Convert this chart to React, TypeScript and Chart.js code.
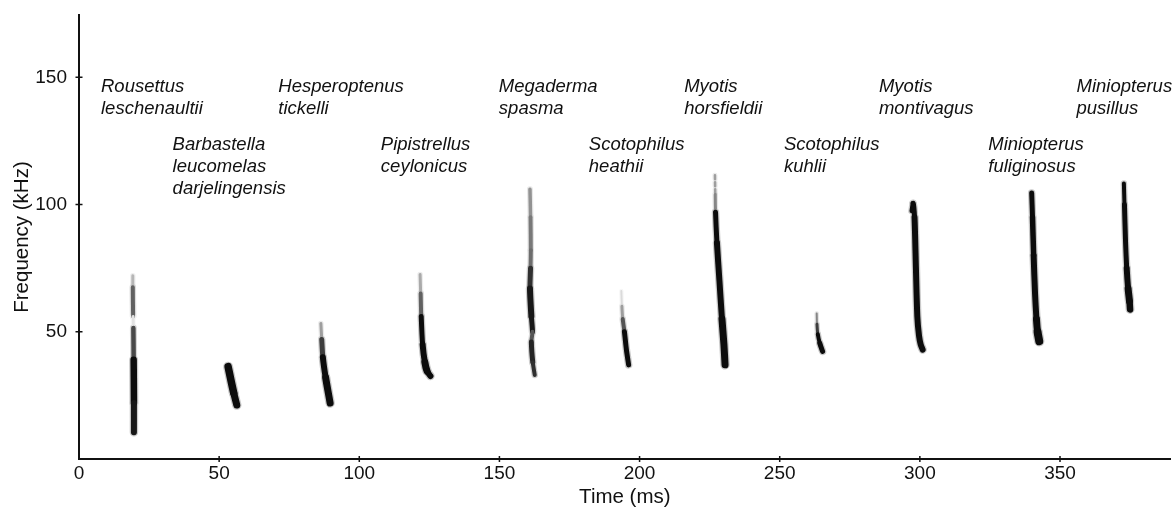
import React, { useEffect, useRef } from "react";
import { Chart, registerables } from "chart.js";

Chart.register(...registerables);

type Pt = [number, number]; // [time ms, frequency kHz]

// ---- axes ----
const xTicks = [0, 50, 100, 150, 200, 250, 300, 350];
const yTicks = [50, 100, 150];
const xMax = 389.5;
const yMax = 174.5;

// ---- call traces (time ms, frequency kHz) ----
const callRousettus: Pt[] = [
  [19.2, 72], [19.2, 67.5], [19.3, 56], [19.4, 51.5], [19.5, 39], [19.6, 22], [19.6, 10.5],
];
const callBarbastella: Pt[] = [[53.2, 36.3], [54.2, 31], [55.2, 26], [56.3, 21.2]];
const callHesperoptenus: Pt[] = [[86.3, 53.3], [86.6, 47], [87.0, 40], [88.0, 32], [89.6, 22]];
const callPipistrellus: Pt[] = [
  [121.7, 72.5], [121.9, 65], [122.1, 56], [122.6, 45], [123.4, 38], [124.2, 34.5], [125.4, 32.6],
];
const callMegaderma: Pt[] = [
  [160.9, 106], [161.1, 95], [161.2, 82], [161.1, 75], [160.9, 67], [161.4, 56], [161.8, 50],
  [161.4, 46], [161.9, 38], [162.6, 33],
];
const callScotoHeathii: Pt[] = [[193.5, 66], [193.7, 60], [194.0, 55], [194.6, 50], [195.3, 43], [196.1, 37]];
const callMyotisHorsfieldii: Pt[] = [
  [226.9, 111.5], [227.0, 104], [227.1, 97], [227.6, 85], [228.5, 70], [229.4, 55], [230.1, 45], [230.5, 37],
];
const callScotoKuhlii: Pt[] = [[263.2, 57.2], [263.3, 53], [263.6, 49], [264.3, 45.5], [265.3, 42.3]];
const callMyotisMontivagus: Pt[] = [
  [297.1, 97.5], [297.6, 100.5], [298.1, 95], [298.6, 75], [299.1, 56], [299.7, 48.5], [300.3, 45], [301.0, 43],
];
const callMinioFuliginosus: Pt[] = [
  [339.9, 104.5], [340.2, 95], [340.6, 80], [341.1, 65], [341.6, 55], [342.0, 50], [342.6, 46.3],
];
const callMinioPusillus: Pt[] = [
  [372.8, 108.3], [373.0, 100], [373.4, 85], [373.8, 75], [374.3, 67], [374.8, 62], [375.0, 58.8],
];

const callList: Pt[][] = [
  callRousettus, callBarbastella, callHesperoptenus, callPipistrellus, callMegaderma,
  callScotoHeathii, callMyotisHorsfieldii, callScotoKuhlii, callMyotisMontivagus,
  callMinioFuliginosus, callMinioPusillus,
];

// ---- species labels ----
const speciesNames = [
  "Rousettus leschenaultii", "Barbastella leucomelas darjelingensis", "Hesperoptenus tickelli",
  "Pipistrellus ceylonicus", "Megaderma spasma", "Scotophilus heathii", "Myotis horsfieldii",
  "Scotophilus kuhlii", "Myotis montivagus", "Miniopterus fuliginosus", "Miniopterus pusillus",
];
const labelTimes = [7.85, 33.4, 71.1, 107.7, 149.8, 181.9, 215.9, 251.5, 285.4, 324.4, 355.9];
const labelFreqs = [144.1, 121.4, 144.1, 121.4, 144.1, 121.4, 144.1, 121.4, 144.1, 121.4, 144.1];

// ---- styles (per segment): shade 0 = black, 1 = white; stroke widths in px ----
const callShades: number[][] = [
  [0.7, 0.35, 0.88, 0.25, 0, 0.05],
  [0, 0, 0],
  [0.6, 0.2, 0, 0],
  [0.65, 0.35, 0, 0, 0, 0],
  [0.55, 0.45, 0.4, 0.15, 0.05, 0.05, 0.3, 0.1, 0.15],
  [0.85, 0.6, 0.3, 0, 0],
  [0.6, 0.5, 0, 0, 0, 0, 0],
  [0.5, 0.2, 0, 0, 0],
  [0, 0, 0, 0, 0, 0, 0],
  [0, 0, 0, 0, 0, 0],
  [0, 0, 0, 0, 0, 0],
];
const callWidths: number[][] = [
  [3, 4, 3, 4.5, 6.5, 6],
  [7.5, 7.5, 7],
  [3, 5, 6, 7],
  [3, 4, 5, 6, 7, 6],
  [3.5, 4, 4, 5, 6, 5, 4, 5, 4],
  [2, 3, 4, 5, 5],
  [2.5, 3, 5, 6, 6, 7, 7],
  [2, 3, 4, 5],
  [4.5, 5, 6, 6, 6, 6, 6],
  [5, 5.5, 6, 6, 7, 8],
  [4, 5, 5, 6, 7, 6.5],
];
const dashedSegments: number[][] = [[], [], [], [], [], [], [0], [], [], [], []];

const FONT = '"Liberation Sans", Arial, Helvetica, sans-serif';
const INK = "#111";

const grayLevel = (shade: number) => Math.round(12 + (255 - 12) * shade);
const coreColor = (shade: number) => {
  const g = grayLevel(shade);
  return `rgb(${g},${g},${g})`;
};
const haloColor = (shade: number) => {
  const g = Math.round(255 - 0.22 * (255 - grayLevel(shade)));
  return `rgb(${g},${g},${g})`;
};

const tickMarksPlugin = {
  id: "tickMarks",
  afterDraw(chart: any) {
    const { ctx, chartArea } = chart;
    const xs = chart.scales.x;
    const ys = chart.scales.y;
    ctx.save();
    ctx.strokeStyle = INK;
    ctx.lineWidth = 1.5;
    ctx.beginPath();
    for (const v of yTicks) {
      const py = ys.getPixelForValue(v);
      ctx.moveTo(chartArea.left - 3.5, py);
      ctx.lineTo(chartArea.left + 3.5, py);
    }
    for (const v of xTicks) {
      if (v === 0) continue;
      const px = xs.getPixelForValue(v);
      ctx.moveTo(px, chartArea.bottom - 3);
      ctx.lineTo(px, chartArea.bottom + 3);
    }
    ctx.stroke();
    ctx.restore();
  },
};

const speciesLabelPlugin = {
  id: "speciesLabels",
  afterDatasetsDraw(chart: any) {
    const { ctx } = chart;
    const xs = chart.scales.x;
    const ys = chart.scales.y;
    ctx.save();
    ctx.font = `italic 18.5px ${FONT}`;
    ctx.fillStyle = INK;
    ctx.textAlign = "left";
    ctx.textBaseline = "alphabetic";
    speciesNames.forEach((name, i) => {
      const px = xs.getPixelForValue(labelTimes[i]);
      const py = ys.getPixelForValue(labelFreqs[i]);
      name.split(" ").forEach((word, j) => ctx.fillText(word, px, py + j * 22));
    });
    ctx.restore();
  },
};

export default function App() {
  const canvasRef = useRef<HTMLCanvasElement | null>(null);

  useEffect(() => {
    document.body.style.margin = "0";
    const canvas = canvasRef.current;
    if (!canvas) return;

    const datasets: any[] = [];
    callList.forEach((pts, i) => {
      const data = pts.map(([x, y]) => ({ x, y }));
      const shades = callShades[i];
      const widths = callWidths[i];
      const dashed = dashedSegments[i];
      const common = {
        data,
        showLine: true,
        pointRadius: 0,
        pointHoverRadius: 0,
        tension: 0.25,
        borderCapStyle: "round",
        borderJoinStyle: "round",
        fill: false,
      };
      // soft halo (drawn underneath: higher order is drawn first)
      datasets.push({
        ...common,
        order: 2,
        borderColor: haloColor(0),
        borderWidth: 8,
        segment: {
          borderColor: (c: any) => haloColor(shades[c.p0DataIndex]),
          borderWidth: (c: any) => widths[c.p0DataIndex] + 2.5,
          borderDash: (c: any) => (dashed.includes(c.p0DataIndex) ? [4, 3] : []),
        },
      });
      // dark core
      datasets.push({
        ...common,
        order: 1,
        borderColor: INK,
        borderWidth: 6,
        segment: {
          borderColor: (c: any) => coreColor(shades[c.p0DataIndex]),
          borderWidth: (c: any) => widths[c.p0DataIndex],
          borderDash: (c: any) => (dashed.includes(c.p0DataIndex) ? [4, 3] : []),
        },
      });
    });

    const chart = new Chart(canvas, {
      type: "scatter",
      data: { datasets },
      options: {
        animation: false,
        responsive: false,
        devicePixelRatio: window.devicePixelRatio || 1,
        layout: { padding: { top: 15, right: 4.3, left: 0, bottom: 0 } },
        plugins: {
          legend: { display: false },
          tooltip: { enabled: false },
          title: { display: false },
        },
        scales: {
          x: {
            type: "linear",
            min: 0,
            max: xMax,
            afterBuildTicks: (s: any) => {
              s.ticks = xTicks.map((v) => ({ value: v }));
            },
            afterFit: (s: any) => {
              s.height = 53;
              s.paddingLeft = 0;
              s.paddingRight = 0;
            },
            ticks: {
              color: INK,
              font: { family: FONT, size: 19 },
              padding: 3,
              maxRotation: 0,
              autoSkip: false,
            },
            grid: { display: false, drawTicks: false, drawOnChartArea: false },
            border: { display: true, color: INK, width: 2 },
            title: {
              display: true,
              text: "Time (ms)",
              color: INK,
              font: { family: FONT, size: 20.5 },
              padding: { top: 0, bottom: 2 },
            },
          },
          y: {
            type: "linear",
            min: 0,
            max: yMax,
            afterBuildTicks: (s: any) => {
              s.ticks = yTicks.map((v) => ({ value: v }));
            },
            afterFit: (s: any) => {
              s.width = 79;
              s.paddingTop = 0;
              s.paddingBottom = 0;
            },
            ticks: {
              color: INK,
              font: { family: FONT, size: 19 },
              padding: 12,
              autoSkip: false,
            },
            grid: { display: false, drawTicks: false, drawOnChartArea: false },
            border: { display: true, color: INK, width: 2 },
            title: {
              display: true,
              text: "Frequency (kHz)",
              color: INK,
              font: { family: FONT, size: 20.5 },
              padding: { top: 10, bottom: 0 },
            },
          },
        },
      } as any,
      plugins: [tickMarksPlugin, speciesLabelPlugin],
    });

    return () => chart.destroy();
  }, []);

  return (
    <div style={{ width: 1175, height: 512, background: "#fff" }}>
      <canvas ref={canvasRef} width={1175} height={512} style={{ display: "block" }} />
    </div>
  );
}
